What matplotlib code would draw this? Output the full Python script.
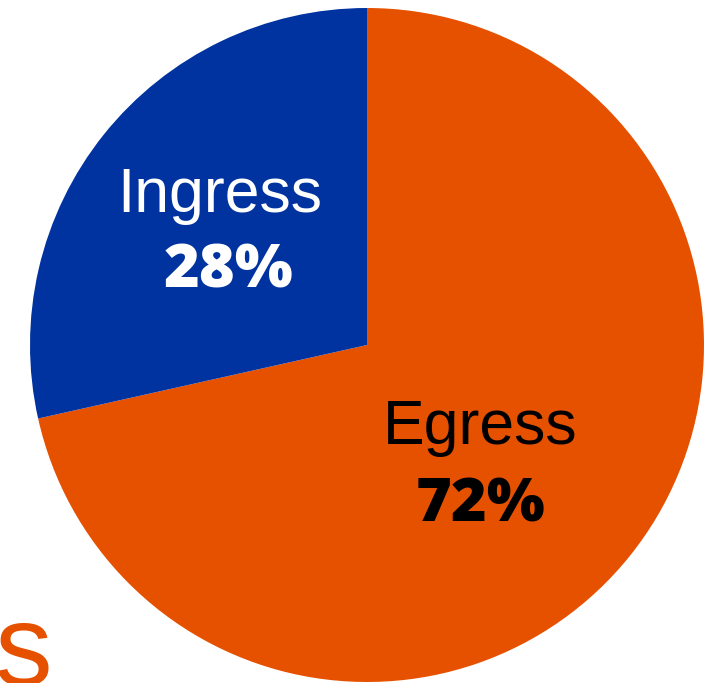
import matplotlib.pyplot as plt

names = ['Egress', 'Ingress']
shares = [71.5, 28.5]          # wedge sizes
pct_labels = ['72%', '28%']    # labels as printed
colors = ['#E65100', '#0033A0']

fig = plt.figure(figsize=(7.17, 6.83), dpi=100)
W, H = 717, 683
cx, cy, R = 367, 345, 337
ax = fig.add_axes([(cx - R) / W, (H - cy - R) / H, 2 * R / W, 2 * R / H])
ax.pie(shares, colors=colors, startangle=90, counterclock=False, radius=1,
       wedgeprops=dict(linewidth=0))
ax.set_xlim(-1, 1)
ax.set_ylim(-1, 1)
ax.set_aspect('equal')
ax.axis('off')

name_font = 'Liberation Sans'
pct_font = 'Open Sans'
# label positions in pie units
ax.text(-0.436, 0.445, names[1], color='white', fontsize=45, family=name_font,
        ha='center', va='center')
ax.text(-0.412, 0.217, pct_labels[1], color='white', fontsize=44, family=pct_font,
        fontweight='heavy', ha='center', va='center')
ax.text(0.335, -0.246, names[0], color='black', fontsize=45, family=name_font,
        ha='center', va='center')
ax.text(0.338, -0.475, pct_labels[0], color='black', fontsize=44, family=pct_font,
        fontweight='heavy', ha='center', va='center')

# cropped title fragment at bottom-left
fig.text(52 / W, -2 / H, 's', color='#E65100', fontsize=83, family=name_font,
         ha='right', va='baseline')

fig.savefig('out.png', dpi=100)
